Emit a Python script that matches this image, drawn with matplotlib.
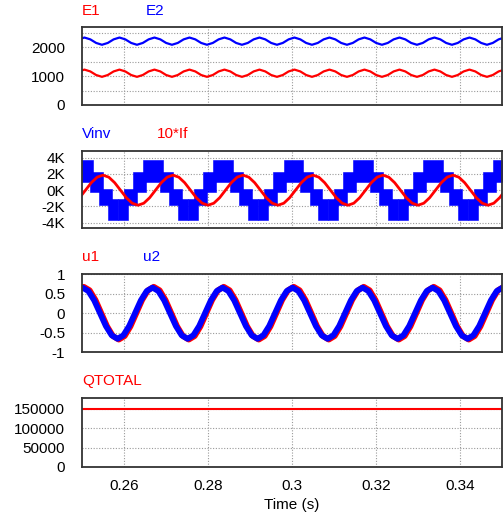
import matplotlib

matplotlib.use("Agg")

import matplotlib.pyplot as plt
import numpy as np
from matplotlib.ticker import FuncFormatter


plt.rcParams["font.family"] = ["Liberation Sans", "DejaVu Sans"]
plt.rcParams["axes.unicode_minus"] = False

WIDTH, HEIGHT = 503, 518

RED = "#ff0000"
BLUE = "#0000ff"
GRID = "#9a9a9a"

# all sampled traces share one sample interval
STEP = 1 / 720

TIME_TICKS = [0.26, 0.28, 0.30, 0.32, 0.34]
TIME_LABELS = ["0.26", "0.28", "0.3", "0.32", "0.34"]

# dc link voltages
E_START = 0.2492
E1_VALUES = [
    1162, 1225, 1162, 1038, 975, 1038, 1162, 1225, 1162, 1038, 975, 1038,
    1162, 1225, 1162, 1038, 975, 1038, 1162, 1225, 1162, 1038, 975, 1038,
    1162, 1225, 1162, 1038, 975, 1038, 1162, 1225, 1162, 1038, 975, 1038,
    1162, 1225, 1162, 1038, 975, 1038, 1162, 1225, 1162, 1038, 975, 1038,
    1162, 1225, 1162, 1038, 975, 1038, 1162, 1225, 1162, 1038, 975, 1038,
    1162, 1225, 1162, 1038, 975, 1038, 1162, 1225, 1162, 1038, 975, 1038,
    1162, 1225,
]
E2_VALUES = [
    2272, 2335, 2272, 2148, 2085, 2148, 2272, 2335, 2272, 2148, 2085, 2148,
    2272, 2335, 2272, 2148, 2085, 2148, 2272, 2335, 2272, 2148, 2085, 2148,
    2272, 2335, 2272, 2148, 2085, 2148, 2272, 2335, 2272, 2148, 2085, 2148,
    2272, 2335, 2272, 2148, 2085, 2148, 2272, 2335, 2272, 2148, 2085, 2148,
    2272, 2335, 2272, 2148, 2085, 2148, 2272, 2335, 2272, 2148, 2085, 2148,
    2272, 2335, 2272, 2148, 2085, 2148, 2272, 2335, 2272, 2148, 2085, 2148,
    2272, 2335,
]

# inverter voltage: switching bands per fundamental cycle,
# start/end in degrees measured from each positive peak
VINV_PEAKS = [0.2502, 0.2669, 0.2836, 0.3003, 0.3169, 0.3336, 0.3502]
VINV_BAND_START = [-180, -148, -104, -50, 36, 84, 128]
VINV_BAND_END = [-128, -84, -36, 50, 104, 148, 180]
VINV_LOW = [-3700, -1800, -200, 1000, -200, -1800, -3700]
VINV_HIGH = [-1050, 100, 2200, 3700, 2200, 100, -1050]
FUNDAMENTAL_HZ = 60

# filter current, scaled by 10
IF_START = 0.24944
IF_VALUES = [
    -925, 0, 925, 1600, 1850, 1600, 925, 0, -925, -1600, -1850, -1600,
    -925, 0, 925, 1600, 1850, 1600, 925, 0, -925, -1600, -1850, -1600,
    -925, 0, 925, 1600, 1850, 1600, 925, 0, -925, -1600, -1850, -1600,
    -925, 0, 925, 1600, 1850, 1600, 925, 0, -925, -1600, -1850, -1600,
    -925, 0, 925, 1600, 1850, 1600, 925, 0, -925, -1600, -1850, -1600,
    -925, 0, 925, 1600, 1850, 1600, 925, 0, -925, -1600, -1850, -1600,
    -925, 0,
]

# modulation signals
U1_START = 0.24904
U1_VALUES = [
    0.59, 0.68, 0.59, 0.34, 0, -0.34, -0.59, -0.68, -0.59, -0.34, 0, 0.34,
    0.59, 0.68, 0.59, 0.34, 0, -0.34, -0.59, -0.68, -0.59, -0.34, 0, 0.34,
    0.59, 0.68, 0.59, 0.34, 0, -0.34, -0.59, -0.68, -0.59, -0.34, 0, 0.34,
    0.59, 0.68, 0.59, 0.34, 0, -0.34, -0.59, -0.68, -0.59, -0.34, 0, 0.34,
    0.59, 0.68, 0.59, 0.34, 0, -0.34, -0.59, -0.68, -0.59, -0.34, 0, 0.34,
    0.59, 0.68, 0.59, 0.34, 0, -0.34, -0.59, -0.68, -0.59, -0.34, 0, 0.34,
    0.59, 0.68, 0.59,
]
U2_START = 0.24874
U2_VALUES = [
    0.57, 0.66, 0.57, 0.33, 0, -0.33, -0.57, -0.66, -0.57, -0.33, 0, 0.33,
    0.57, 0.66, 0.57, 0.33, 0, -0.33, -0.57, -0.66, -0.57, -0.33, 0, 0.33,
    0.57, 0.66, 0.57, 0.33, 0, -0.33, -0.57, -0.66, -0.57, -0.33, 0, 0.33,
    0.57, 0.66, 0.57, 0.33, 0, -0.33, -0.57, -0.66, -0.57, -0.33, 0, 0.33,
    0.57, 0.66, 0.57, 0.33, 0, -0.33, -0.57, -0.66, -0.57, -0.33, 0, 0.33,
    0.57, 0.66, 0.57, 0.33, 0, -0.33, -0.57, -0.66, -0.57, -0.33, 0, 0.33,
    0.57, 0.66, 0.57,
]

# total reactive power
Q_TIMES = [0.25, 0.35]
Q_VALUES = [150000, 150000]


def sample_times(start, values):
    return start + STEP * np.arange(len(values))


def add_panel(fig, top, bottom):
    ax = fig.add_axes([
        82 / WIDTH,
        1 - bottom / HEIGHT,
        420 / WIDTH,
        (bottom - top) / HEIGHT,
    ])

    ax.set_xlim(0.25, 0.35)
    ax.set_xticks(TIME_TICKS)
    ax.set_xticklabels(TIME_LABELS)

    ax.tick_params(axis="both", which="both", length=0, labelsize=11)
    ax.tick_params(axis="y", pad=12)
    ax.tick_params(axis="x", pad=9)

    ax.grid(True, which="both", color=GRID, linestyle=(0, (1, 1.5)), linewidth=0.8)
    ax.set_axisbelow(True)

    for spine in ax.spines.values():
        spine.set_color("#333333")
        spine.set_linewidth(1.3)

    return ax


def series_label(fig, x, y, text, color):
    fig.text(x / WIDTH, 1 - y / HEIGHT, text, color=color, fontsize=11, va="baseline", ha="left")


def main():

    fig = plt.figure(figsize=(WIDTH / 100, HEIGHT / 100), dpi=100)

    # E1, E2
    ax = add_panel(fig, 27, 105)
    ax.plot(sample_times(E_START, E1_VALUES), E1_VALUES, color=RED, lw=1.6)
    ax.plot(sample_times(E_START, E2_VALUES), E2_VALUES, color=BLUE, lw=1.6)
    ax.set_ylim(0, 2700)
    ax.set_yticks([0, 1000, 2000])
    ax.set_yticks([500, 1500, 2500], minor=True)
    ax.tick_params(labelbottom=False)
    series_label(fig, 82, 15, "E1", RED)
    series_label(fig, 146, 15, "E2", BLUE)

    # Vinv, 10*If
    ax = add_panel(fig, 151, 228)
    period = 1 / FUNDAMENTAL_HZ
    for peak in VINV_PEAKS:
        for start, end, low, high in zip(VINV_BAND_START, VINV_BAND_END, VINV_LOW, VINV_HIGH):
            t0 = peak + start / 360 * period
            t1 = peak + end / 360 * period
            ax.fill_between([t0, t1], low, high, color=BLUE, linewidth=0.4, edgecolor=BLUE)
    ax.plot(sample_times(IF_START, IF_VALUES), IF_VALUES, color=RED, lw=2)
    ax.set_ylim(-4650, 4820)
    ax.set_yticks([-4000, -2000, 0, 2000, 4000])
    ax.yaxis.set_major_formatter(FuncFormatter(lambda v, pos: f"{v / 1000:.0f}K"))
    ax.tick_params(labelbottom=False)
    series_label(fig, 82, 138, "Vinv", BLUE)
    series_label(fig, 157, 138, "10*If", RED)

    # u1, u2
    ax = add_panel(fig, 274, 352)
    ax.plot(sample_times(U1_START, U1_VALUES), U1_VALUES, color=RED, lw=4.2)
    ax.plot(sample_times(U2_START, U2_VALUES), U2_VALUES, color=BLUE, lw=4.2)
    ax.set_ylim(-1, 1.01)
    ax.set_yticks([-1, -0.5, 0, 0.5, 1])
    ax.yaxis.set_major_formatter(FuncFormatter(lambda v, pos: f"{v:g}"))
    ax.tick_params(labelbottom=False)
    series_label(fig, 82, 261, "u1", RED)
    series_label(fig, 143, 261, "u2", BLUE)

    # QTOTAL
    ax = add_panel(fig, 398, 467)
    ax.plot(Q_TIMES, Q_VALUES, color=RED, lw=1.5)
    ax.set_ylim(0, 178000)
    ax.set_yticks([0, 50000, 100000, 150000])
    ax.yaxis.set_major_formatter(FuncFormatter(lambda v, pos: f"{v:.0f}"))
    series_label(fig, 82, 385, "QTOTAL", RED)

    fig.text(292 / WIDTH, 1 - 509 / HEIGHT, "Time (s)", fontsize=11, ha="center", va="baseline")

    fig.savefig("out.png", dpi=100)


if __name__ == "__main__":
    main()
